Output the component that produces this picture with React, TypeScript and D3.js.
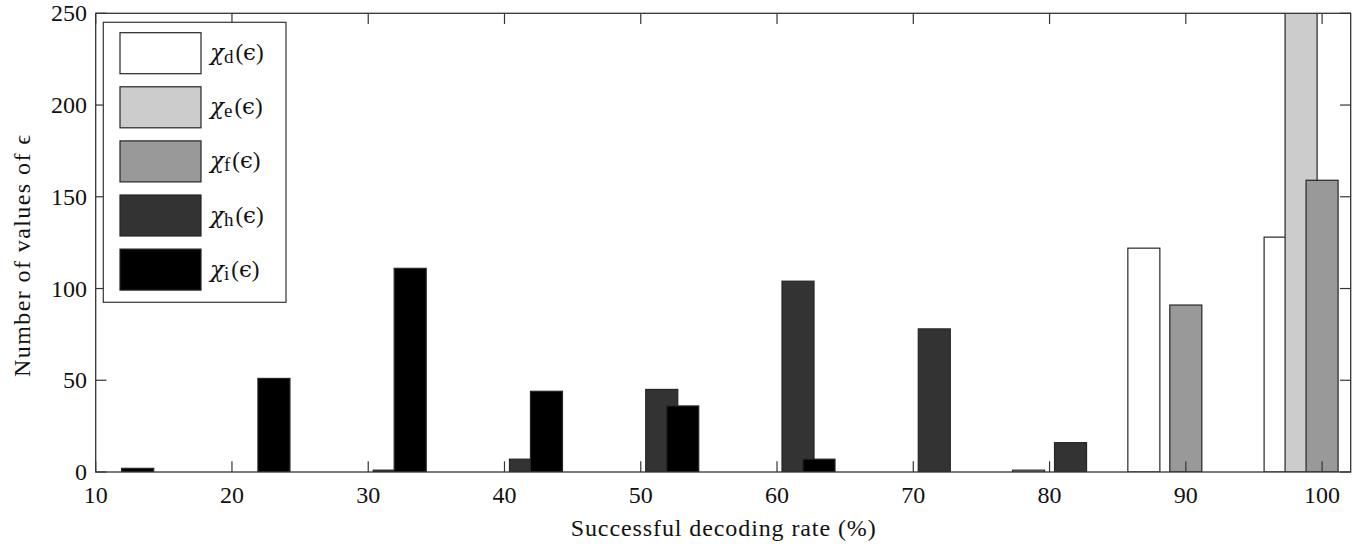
import React from "react";
import * as d3 from "d3";

const categories = [10, 20, 30, 40, 50, 60, 70, 80, 90, 100];
const chiD = [0, 0, 0, 0, 0, 0, 0, 0, 122, 128];
const chiE = [0, 0, 0, 0, 0, 0, 0, 1, 0, 265];
const chiF = [0, 0, 0, 0, 0, 0, 0, 0, 91, 159];
const chiH = [0, 0, 1, 7, 45, 104, 78, 16, 0, 0];
const chiI = [2, 51, 111, 44, 36, 7, 0, 0, 0, 0];
const seriesSubs = ["d", "e", "f", "h", "i"];
const seriesValues = [chiD, chiE, chiF, chiH, chiI];
const seriesColors = ["#ffffff", "#cccccc", "#999999", "#333333", "#000000"];
const xTicks = [10, 20, 30, 40, 50, 60, 70, 80, 90, 100];
const yTicks = [0, 50, 100, 150, 200, 250];

const W = 1358;
const H = 544;
const L = 95.7, R = 1350.7, T = 13.3, B = 472;

const serif = { fontFamily: "Liberation Serif" };
const greek = { fontFamily: "DejaVu Serif" };

export default function App() {
  const x = d3.scaleLinear().domain([10, 102.1]).range([L, R]);
  const y = d3.scaleLinear().domain([0, 250]).range([B, T]);
  const offset = d3.scaleLinear().domain([0, 4]).range([-3.08, 3.08]);
  const barW = 2.35;
  const axisColor = "#353535";
  const tickLen = 10.7;
  const textColor = "#111";

  const bars: any[] = [];
  seriesValues.forEach((vals, s) => {
    vals.forEach((v, i) => {
      if (v <= 0) return;
      const c = categories[i] + offset(s);
      const x0 = x(c - barW / 2);
      const x1 = x(c + barW / 2);
      bars.push(
        <rect
          key={`b${s}-${i}`}
          x={x0}
          y={y(v)}
          width={x1 - x0}
          height={y(0) - y(v)}
          fill={seriesColors[s]}
          stroke="#262626"
          strokeWidth={1.2}
        />
      );
    });
  });

  const legX = 103.3, legY = 22.3, legW = 182.7, legH = 280;
  const swX = 120, swW = 81, swH = 41, rowTop = 32.7, rowStep = 54.1;

  return (
    <svg
      width={W}
      height={H}
      style={{ position: "absolute", left: 0, top: 0, background: "#fff" }}
    >
      <defs>
        <clipPath id="plotClip">
          <rect x={L} y={T} width={R - L} height={B - T} />
        </clipPath>
      </defs>
      <rect x={0} y={0} width={W} height={H} fill="#fff" />
      <g clipPath="url(#plotClip)">{bars}</g>
      <rect x={L} y={T} width={R - L} height={B - T} fill="none" stroke={axisColor} strokeWidth={1.3} />
      {xTicks.map((t) => (
        <g key={`xt${t}`}>
          <line x1={x(t)} x2={x(t)} y1={B} y2={B - tickLen} stroke={axisColor} strokeWidth={1.2} />
          <line x1={x(t)} x2={x(t)} y1={T} y2={T + tickLen} stroke={axisColor} strokeWidth={1.2} />
          <text x={x(t)} y={503} textAnchor="middle" fontSize={24} fill={textColor} style={serif}>
            {t}
          </text>
        </g>
      ))}
      {yTicks.map((t) => (
        <g key={`yt${t}`}>
          <line x1={L} x2={L + tickLen} y1={y(t)} y2={y(t)} stroke={axisColor} strokeWidth={1.2} />
          <line x1={R} x2={R - tickLen} y1={y(t)} y2={y(t)} stroke={axisColor} strokeWidth={1.2} />
          <text x={87} y={y(t) + 8} textAnchor="end" fontSize={24} fill={textColor} style={serif}>
            {t}
          </text>
        </g>
      ))}
      <text
        x={(L + R) / 2}
        y={536}
        textAnchor="middle"
        fontSize={24}
        fill={textColor}
        style={serif}
        textLength={305}
        lengthAdjust="spacing"
      >
        Successful decoding rate (%)
      </text>
      <text
        transform={`translate(30,256) rotate(-90)`}
        textAnchor="middle"
        fontSize={24}
        fill={textColor}
        style={serif}
        textLength={242}
        lengthAdjust="spacing"
      >
        Number of values of ϵ
      </text>
      <rect x={legX} y={legY} width={legW} height={legH} fill="#fff" stroke={axisColor} strokeWidth={1.2} />
      {seriesSubs.map((sub, s) => {
        const ry = rowTop + s * rowStep;
        return (
          <g key={`lg${s}`}>
            <rect x={swX} y={ry} width={swW} height={swH} fill={seriesColors[s]} stroke="#262626" strokeWidth={1.2} />
            <text x={210} y={ry + swH / 2 + 7} fontSize={23} fill={textColor} style={serif}>
              <tspan style={greek} fontStyle="italic">χ</tspan>
              <tspan fontSize={19} dy={3}>{sub}</tspan>
              <tspan dy={-3} dx={2}>(</tspan>
              <tspan style={greek}>ϵ</tspan>
              <tspan>)</tspan>
            </text>
          </g>
        );
      })}
    </svg>
  );
}
